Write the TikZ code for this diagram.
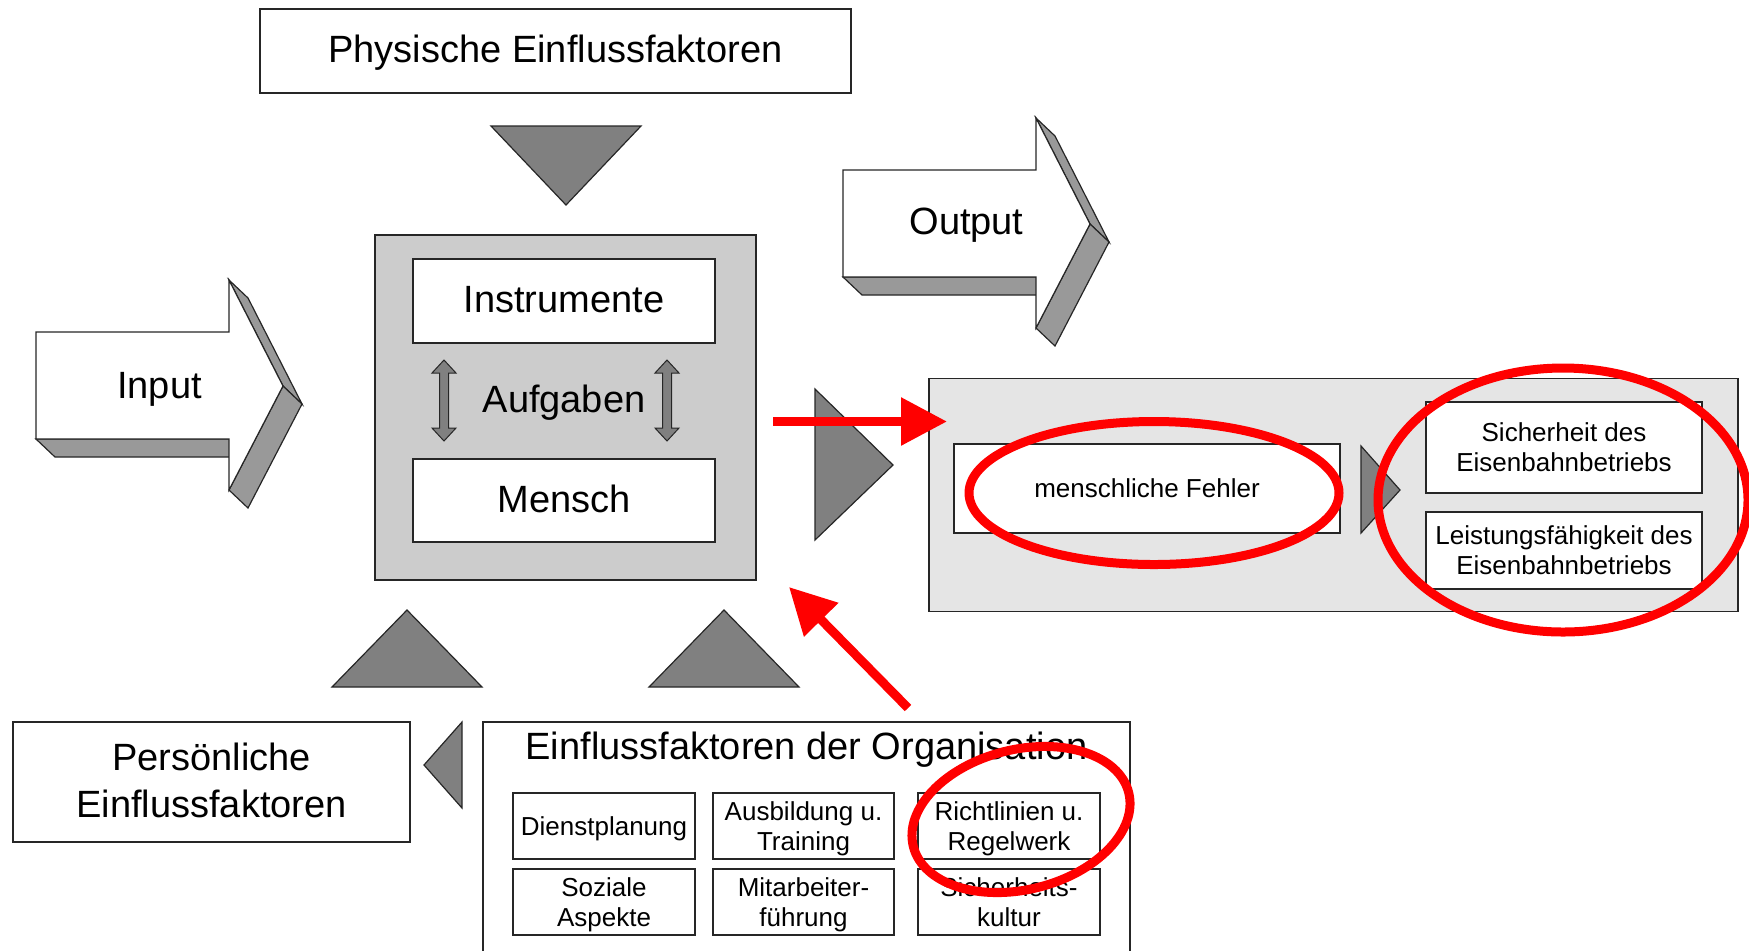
\documentclass[tikz,border=0pt]{standalone}
\usepackage{fontspec}
\setmainfont{Liberation Sans}
\usetikzlibrary{arrows.meta}
\definecolor{tri}{HTML}{808080}
\definecolor{side}{HTML}{999999}
\definecolor{core}{HTML}{CCCCCC}
\definecolor{panelbg}{HTML}{E5E5E5}
\definecolor{alertred}{HTML}{FF0000}

\begin{document}
\begin{tikzpicture}[x=0.5pt,y=-0.5pt,
  outline/.style={draw=black!85, line width=0.6pt},
  box/.style={outline, fill=white, rectangle, inner sep=0pt, outer sep=0pt,
    text depth=0pt, align=center},
  wh/.style 2 args={minimum width=#1*0.5pt, minimum height=#2*0.5pt},
  bigtext/.style={font=\fontsize{19}{23.5}\selectfont},
  boxbig/.style={bigtext, text depth=2pt},
  smalltext/.style={font=\fontsize{13}{15}\selectfont},
  txt/.style={inner sep=0pt, text depth=0pt, align=center},
  wedge/.style={outline, fill=tri},
  ring/.style={draw=alertred, line width=4.5pt},
  hint/.style={draw=alertred, line width=4.5pt,
    -{Triangle[length=23pt,width=23pt]}},
  % 3D block arrow, origin at the top-left corner of the front face
  blockarrow/.pic={
    \path[outline, fill=side] (0,107) -- (19,125) -- (212,125) -- (193,107) -- cycle;
    \path[outline, fill=side] (193,-52) -- (212,-34) -- (266,72) -- (247,54) -- cycle;
    \path[outline, fill=side] (193,158) -- (212,176) -- (266,72) -- (247,54) -- cycle;
    \path[outline, fill=white] (0,0) -- (193,0) -- (193,-52) -- (247,54)
      -- (193,158) -- (193,107) -- (0,107) -- cycle;
  },
  % vertical double-headed arrow, origin at its centre
  updown/.pic={
    \path[outline, fill=tri, line width=0.5pt] (0,-40.5) -- (12,-27.5) -- (4.5,-27.5)
      -- (4.5,27.5) -- (12,27.5) -- (0,40.5) -- (-12,27.5) -- (-4.5,27.5)
      -- (-4.5,-27.5) -- (-12,-27.5) -- cycle;
  }
]
\useasboundingbox (0,0) rectangle (1749,950);
\clip (0,0) rectangle (1749,950);

% physical factors on top
\node[box, wh={591}{84}, boxbig] (phys) at (555.5,51) {Physische Einflussfaktoren};
\path[wedge] (491,126) -- (641,126) -- (566,205) -- cycle;

% input and output block arrows
\pic at (36,332) {blockarrow};
\node[txt, bigtext] (input) at (159.5,385) {Input};
\pic at (843,170) {blockarrow};
\node[txt, bigtext] (output) at (966.5,221) {Output};

% central work system
\node[box, fill=core, wh={381}{345}] (core) at (565.5,407.5) {};
\node[box, wh={302}{84}, boxbig] (instr) at (564,301) {Instrumente};
\node[box, wh={302}{83}, boxbig] (mensch) at (564,500.5) {Mensch};
\node[txt, bigtext] (aufg) at (564,398.5) {Aufgaben};
\pic at (444,400.5) {updown};
\pic at (667,400.5) {updown};

\path[wedge] (815,389) -- (893,465) -- (815,540) -- cycle;

% results panel
\node[box, fill=panelbg, wh={809}{233}] (panel) at (1333.5,495) {};
\node[box, wh={386}{89}, smalltext] (fehler) at (1147,488.5) {menschliche Fehler};
\path[wedge] (1361,446) -- (1400,490) -- (1361,533) -- cycle;
\node[box, wh={276}{91}, smalltext] (sicher) at (1564,447.5)
  {Sicherheit des\\Eisenbahnbetriebs};
\node[box, wh={276}{77}, smalltext] (leist) at (1564,550.5)
  {Leistungsfähigkeit des\\Eisenbahnbetriebs};

% influences from below
\path[wedge] (332,687) -- (407,610) -- (482,687) -- cycle;
\path[wedge] (649,687) -- (724,610) -- (799,687) -- cycle;
\path[wedge] (462,722) -- (424,765) -- (462,808) -- cycle;

\node[box, wh={397}{120}, boxbig] (pers) at (211.5,782)
  {Persönliche\\Einflussfaktoren};

\node[box, wh={647}{260}] (org) at (806.5,852) {};
\node[txt, bigtext] (orgtitle) at (806.5,745.5) {Einflussfaktoren der Organisation};
\node[box, wh={182}{66}, smalltext] (dienst) at (604,826) {Dienstplanung};
\node[box, wh={181}{66}, smalltext] (ausb) at (803.5,826) {Ausbildung u.\\Training};
\node[box, wh={182}{66}, smalltext] (richt) at (1009,826) {Richtlinien u.\\Regelwerk};
\node[box, wh={182}{66}, smalltext] (sozial) at (604,902) {Soziale\\Aspekte};
\node[box, wh={181}{66}, smalltext] (mitarb) at (803.5,902) {Mitarbeiter-\\führung};
\node[box, wh={182}{66}, smalltext] (sikult) at (1009,902) {Sicherheits-\\kultur};

% red highlights
\draw[ring] (1154,493) ellipse [x radius=185, y radius=71.5];
\draw[ring] (1563,500) ellipse [x radius=185, y radius=132];
\draw[ring, rotate around={14:(1021,819.5)}] (1021,819.5)
  ellipse [x radius=111, y radius=70];

\coordinate (h1s) at (773,421.5);
\coordinate (h1e) at (947,421.5);
\draw[hint] (h1s) -- (h1e);
\coordinate (h2s) at (908,708);
\coordinate (h2e) at (789,587);
\draw[hint] (h2s) -- (h2e);
\end{tikzpicture}
\end{document}
